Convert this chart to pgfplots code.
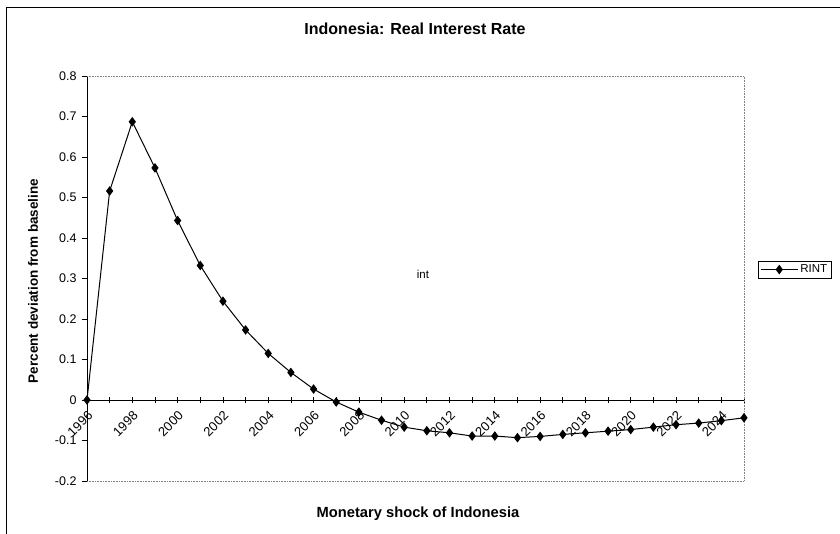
\documentclass[border=0pt]{standalone}
\usepackage{fontspec}
\setmainfont{Liberation Sans}
\usepackage{pgfplots}
\pgfplotsset{compat=1.18}
\begin{document}
\begin{tikzpicture}[x=1pt,y=1pt]
\useasboundingbox (0,0) rectangle (840,534);
\draw[black, line width=1pt] (6,0) -- (6,526) -- (840,526);
\begin{axis}[at={(87pt,53pt)}, anchor=south west, scale only axis,
  width=657pt, height=405pt,
  xmin=1996, xmax=2025, ymin=-0.2, ymax=0.8,
  axis x line=middle, axis y line=left,
  axis line style={-, black, line width=0.8pt},
  hide obscured x ticks=false,
  clip=false,
  xtick={1996,...,2025},
  xticklabels={1996,,1998,,2000,,2002,,2004,,2006,,2008,,2010,,2012,,2014,,2016,,2018,,2020,,2022,,2024,},
  ytick={-0.2,-0.1,0,0.1,0.2,0.3,0.4,0.5,0.6,0.7,0.8},
  yticklabels={-0.2,-0.1,0,0.1,0.2,0.3,0.4,0.5,0.6,0.7,0.8},
  tick align=center, major tick length=6pt,
  tick style={black, line width=0.6pt},
  y tick style={xshift=-2pt},
  xticklabel style={rotate=45, anchor=north east, font=\fontsize{13}{14}\selectfont, inner sep=1pt, xshift=-4pt, yshift=-4pt},
  yticklabel style={font=\fontsize{12.5}{14}\selectfont, xshift=-4pt},
  legend style={at={(1.0213,0.522)}, anchor=west, draw=black, line width=0.6pt,
    font=\fontsize{11.5}{12}\selectfont, inner sep=2pt},
  legend cell align=left,
  legend image code/.code={\draw[mark repeat=2,mark phase=2] plot coordinates {(0cm,0cm) (0.65cm,0cm) (1.3cm,0cm)};},
]
\addplot[black, line width=1pt, mark=diamond*, mark size=4pt, mark options={solid}] coordinates {
(1996,0) (1997,0.516) (1998,0.687) (1999,0.573) (2000,0.443) (2001,0.332)
(2002,0.244) (2003,0.173) (2004,0.115) (2005,0.068) (2006,0.027) (2007,-0.005)
(2008,-0.030) (2009,-0.050) (2010,-0.067) (2011,-0.076) (2012,-0.081) (2013,-0.089)
(2014,-0.089) (2015,-0.093) (2016,-0.090) (2017,-0.085) (2018,-0.081) (2019,-0.077)
(2020,-0.073) (2021,-0.067) (2022,-0.061) (2023,-0.057) (2024,-0.051) (2025,-0.044)
};
\addlegendentry{RINT}
\draw[gray, densely dotted, line width=0.6pt] (rel axis cs:0,1) -- (rel axis cs:1,1) -- (rel axis cs:1,0) -- (rel axis cs:0,0);
\node[font=\fontsize{11.5}{12}\selectfont] at (axis cs:2010.83,0.309) {int};
\end{axis}
\node[font=\bfseries\fontsize{16}{18}\selectfont] at (415,505) {Indonesia: Real Interest Rate};
\node[font=\bfseries\fontsize{14.7}{16}\selectfont] at (418,20) {Monetary shock of Indonesia};
\node[font=\bfseries\fontsize{13.5}{16}\selectfont, rotate=90] at (33,253) {Percent deviation from baseline};
\end{tikzpicture}
\end{document}
